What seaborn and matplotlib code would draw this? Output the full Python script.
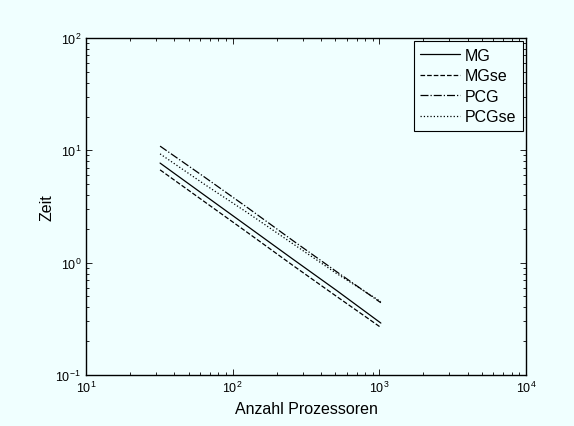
import numpy as np
import pandas as pd
import matplotlib
matplotlib.use('Agg')
import matplotlib.pyplot as plt
import seaborn as sns
from matplotlib.ticker import LogLocator, NullFormatter

# data
procs = [32, 64, 128, 256, 512, 1024]
mg = [7.7, 4.0, 2.08, 1.08, 0.565, 0.29]
mgse = [6.7, 3.5, 1.83, 0.95, 0.50, 0.265]
pcg = [10.9, 5.8, 3.05, 1.58, 0.83, 0.44]
pcgse = [9.3, 5.0, 2.75, 1.48, 0.80, 0.45]
names = ['MG', 'MGse', 'PCG', 'PCGse']
styles = ['-', '--', '-.', ':']

sns.set_style('ticks')
plt.rcParams['font.family'] = ['Liberation Sans', 'DejaVu Sans']
plt.rcParams['mathtext.fontset'] = 'custom'
plt.rcParams['mathtext.rm'] = 'Liberation Sans'
plt.rcParams['mathtext.it'] = 'Liberation Sans'
plt.rcParams['text.color'] = 'black'
plt.rcParams['axes.labelcolor'] = 'black'
plt.rcParams['xtick.color'] = 'black'
plt.rcParams['ytick.color'] = 'black'

bg = '#F0FFFF'
fig = plt.figure(figsize=(5.74, 4.27), dpi=100, facecolor=bg)
ax = fig.add_axes([0.1498, 0.1194, 0.7666, 0.7893])
ax.set_facecolor(bg)

for name, vals, ls in zip(names, [mg, mgse, pcg, pcgse], styles):
    df = pd.DataFrame({'procs': procs, 'zeit': vals})
    sns.lineplot(data=df, x='procs', y='zeit', ax=ax, color='black',
                 linestyle=ls, linewidth=0.9, label=name)

ax.set_xscale('log')
ax.set_yscale('log')
ax.set_xlim(10, 1e4)
ax.set_ylim(0.1, 100)
ax.set_xlabel('Anzahl Prozessoren', fontsize=11.5, labelpad=4)
ax.set_ylabel('Zeit', fontsize=11.5, labelpad=1)

for a in [ax.xaxis, ax.yaxis]:
    a.set_major_locator(LogLocator(base=10, numticks=10))
    a.set_minor_locator(LogLocator(base=10, subs=np.arange(2, 10), numticks=20))
    a.set_minor_formatter(NullFormatter())
ax.tick_params(which='both', direction='in', top=True, right=True,
               labelsize=9, width=0.6)
ax.tick_params(which='major', length=4)
ax.tick_params(which='minor', length=2)
for s in ax.spines.values():
    s.set_linewidth(1.0)
    s.set_color('black')

leg = ax.legend(loc='upper right', borderaxespad=0.2, fontsize=11.5,
                handlelength=2.5, handletextpad=0.3, labelspacing=0.35,
                borderpad=0.4, fancybox=False, framealpha=1, edgecolor='black')
leg.get_frame().set_facecolor(bg)
leg.get_frame().set_linewidth(0.8)

fig.savefig('out.png', dpi=100, facecolor=bg)
